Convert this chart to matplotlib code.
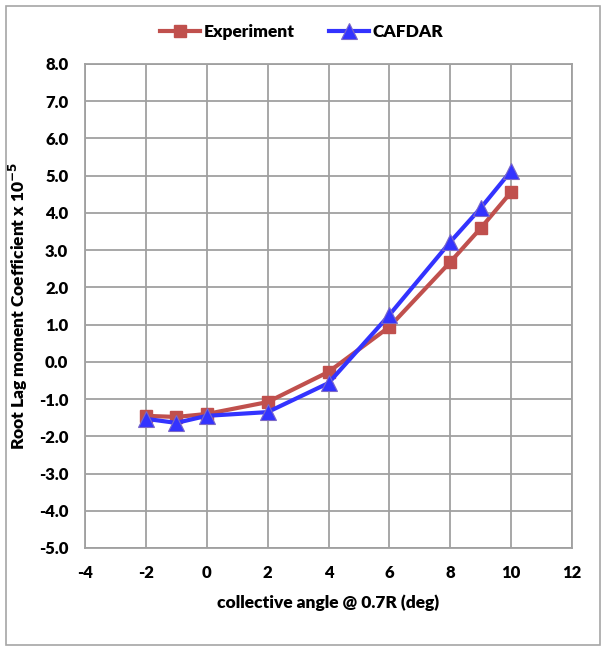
import matplotlib.pyplot as plt
from matplotlib.patches import Rectangle

# data
angle = [-2, -1, 0, 2, 4, 6, 8, 9, 10]
experiment = [-1.45, -1.48, -1.40, -1.08, -0.27, 0.94, 2.68, 3.59, 4.56]
cafdar = [-1.53, -1.64, -1.45, -1.35, -0.57, 1.26, 3.22, 4.13, 5.13]

x_ticks = [-4, -2, 0, 2, 4, 6, 8, 10, 12]
y_ticks = [-5, -4, -3, -2, -1, 0, 1, 2, 3, 4, 5, 6, 7, 8]

plt.rcParams['font.family'] = ['Lato', 'DejaVu Sans']
plt.rcParams['font.weight'] = 'bold'
plt.rcParams['axes.unicode_minus'] = False

fig = plt.figure(figsize=(6.04, 6.51), dpi=100)
ax = fig.add_axes([85/604, 1 - 548/651, (572-85)/604, (548-64)/651])

# outer chart border
fig.patches.append(Rectangle((6/604, 6/651), 594/604, 639/651, transform=fig.transFigure,
                             fill=False, edgecolor='#a6a6a6', linewidth=1.2))

ax.plot(angle, experiment, color='#c0504d', linewidth=3, marker='s', markersize=9,
        markerfacecolor='#c0504d', markeredgecolor='#c0504d', label='Experiment')
ax.plot(angle, cafdar, color='#3333ff', linewidth=3, marker='^', markersize=11,
        markerfacecolor='#3333ff', markeredgecolor='#7b68c8', markeredgewidth=0.8, label='CAFDAR')

ax.set_xlim(-4, 12)
ax.set_ylim(-5, 8)
ax.set_xticks(x_ticks)
ax.set_yticks(y_ticks)
ax.set_yticklabels([f"{v:.1f}" for v in y_ticks])
ax.grid(True, color='#a0a0a0', linewidth=1.3)
ax.set_axisbelow(True)
for s in ax.spines.values():
    s.set_color('#a0a0a0')
    s.set_linewidth(1.3)
ax.tick_params(length=0, labelsize=12, pad=12)
for lab in ax.get_xticklabels() + ax.get_yticklabels():
    lab.set_fontweight('heavy')

ax.set_xlabel("collective angle @ 0.7R (deg)", fontsize=12.5, fontweight='heavy', labelpad=10)
ax.set_ylabel("Root Lag moment Coefficient x 10$^{\\mathbf{-5}}$", fontsize=12.5, fontweight='heavy', labelpad=6)

fig.legend(loc='center', bbox_to_anchor=(0.5, 1 - 32/651), ncol=2, frameon=False,
           handlelength=2.3, columnspacing=2.0, handletextpad=0.2,
           prop={'weight': 'heavy', 'size': 12.5})

fig.savefig("out.png", dpi=100)
